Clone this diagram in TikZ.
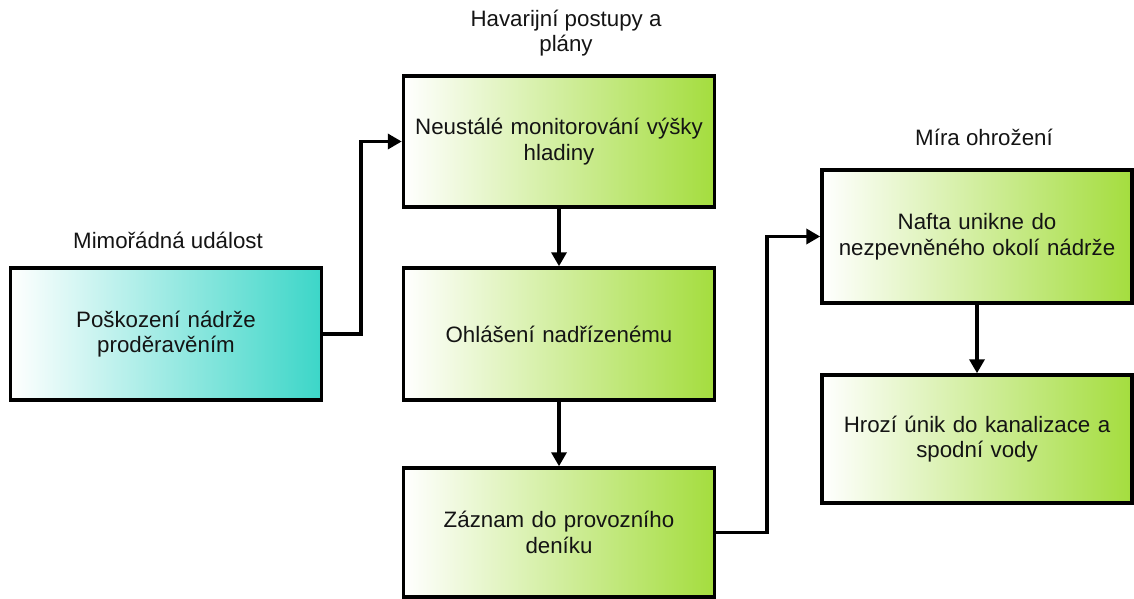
\documentclass[tikz,border=0pt]{standalone}
\usepackage{fontspec}
\setmainfont{Liberation Sans}
\usetikzlibrary{arrows.meta}
\definecolor{tealend}{RGB}{60,214,200}
\definecolor{greenend}{RGB}{164,221,62}
\definecolor{txt}{RGB}{20,20,20}
\begin{document}
\begin{tikzpicture}[x=1pt,y=-1pt,
  box/.style={draw=black, line width=3.5pt, minimum width=311pt, minimum height=131pt,
    inner sep=0pt, align=center, text width=305pt, font=\fontsize{22.3}{25.5}\selectfont, text=txt,
    shading=axis, left color=white, right color=greenend, shading angle=90},
  tealbox/.style={box, left color=white, right color=tealend},
  lbl/.style={align=center, font=\fontsize{22.3}{25.5}\selectfont, text=txt, inner sep=0pt},
  conn/.style={line width=3.5pt, -{Triangle[length=14pt,width=15pt]}},
  plainconn/.style={line width=3.5pt}]
\useasboundingbox (0,0) rectangle (1134,599);
\node[tealbox, minimum height=132pt] (a) at (166,334) {Poškození nádrže\\proděravěním};
\node[box] (b) at (559,141.5) {Neustálé monitorování výšky\\hladiny};
\node[box, minimum height=132pt] (c) at (559,334) {Ohlášení nadřízenému};
\node[box, minimum height=129pt] (d) at (559,532.5) {Záznam do provozního\\deníku};
\node[box, minimum height=133pt, minimum width=310pt] (e) at (977,236.5) {Nafta unikne do\\nezpevněného okolí nádrže};
\node[box, minimum height=128pt, minimum width=310pt] (f) at (977,439) {Hrozí únik do kanalizace a\\spodní vody};
\node[lbl] (la) at (168,240) {Mimořádná událost};
\node[lbl] (lb) at (566,33) {Havarijní postupy a\\plány};
\node[lbl] (le) at (984,137) {Míra ohrožení};
\coordinate (k1) at (361,0);
\coordinate (k2) at (767,0);
\draw[conn] (a.east) -| (k1 |- b.west) -- (b.west);
\draw[conn] (d.east) -| (k2 |- e.west) -- (e.west);
\draw[conn] (b.south) -- (c.north);
\draw[conn] (c.south) -- (d.north);
\draw[conn] (e.south) -- (f.north);
\end{tikzpicture}
\end{document}
